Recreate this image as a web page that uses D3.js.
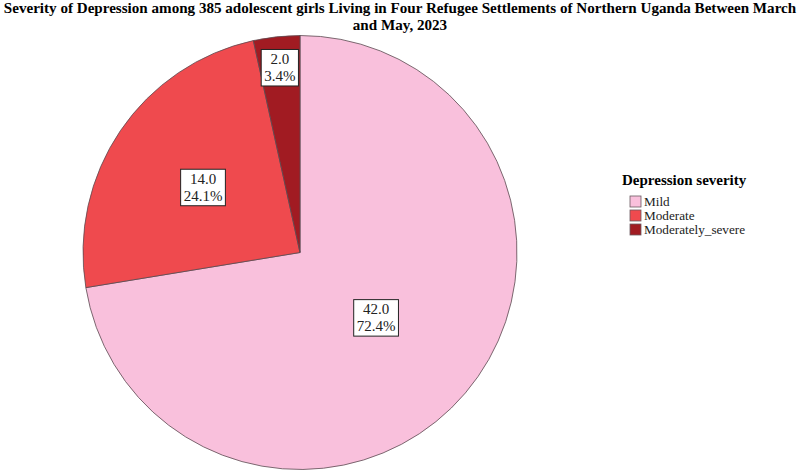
<!DOCTYPE html>
<html>
<head>
<meta charset="utf-8">
<script src="https://cdn.jsdelivr.net/npm/d3@7"></script>
<style>
body { margin: 0; background: #fff; }
text { font-family: "Liberation Serif", "Times New Roman", serif; }
</style>
</head>
<body>
<svg id="chart" width="800" height="472"></svg>
<script>
var categories = ["Mild", "Moderate", "Moderately_severe"];
var counts = [42.0, 14.0, 2.0];
var percents = ["72.4%", "24.1%", "3.4%"];
var colors = ["#f9c0dc", "#ef4a4e", "#a11b22"];

// where SPSS put each label, as fraction of radius
var labelRadius = [0.46, 0.54, 0.86];

var svg = d3.select("#chart"),
    width = +svg.attr("width"),
    height = +svg.attr("height");

var title = svg.append("text")
    .attr("text-anchor", "middle")
    .attr("font-weight", "bold")
    .attr("font-size", 15.1);
title.append("tspan").attr("x", 400).attr("y", 13)
    .text("Severity of Depression among 385 adolescent girls Living in Four Refugee Settlements of Northern Uganda Between March");
title.append("tspan").attr("x", 400).attr("y", 30)
    .text("and May, 2023");

var cx = 300, cy = 252.5, r = 217;

var pie = d3.pie().sort(null).value(function (d) { return d; });
var arc = d3.arc().innerRadius(0).outerRadius(r);
var arcs = pie(counts);

var g = svg.append("g").attr("transform", "translate(" + cx + "," + cy + ")");

g.selectAll("path")
    .data(arcs)
    .enter().append("path")
    .attr("d", arc)
    .attr("fill", function (d, i) { return colors[i]; })
    .attr("stroke", "#5a4a50")
    .attr("stroke-width", 0.8);

var labels = g.selectAll("g.lab")
    .data(arcs)
    .enter().append("g")
    .attr("class", "lab")
    .attr("transform", function (d, i) {
        var a = (d.startAngle + d.endAngle) / 2;
        var rr = r * labelRadius[i];
        return "translate(" + (rr * Math.sin(a)) + "," + (-rr * Math.cos(a)) + ")";
    });

labels.each(function (d, i) {
    var sel = d3.select(this);
    var rect = sel.append("rect");
    var t = sel.append("text")
        .attr("text-anchor", "middle")
        .attr("font-size", 15)
        .attr("fill", "#222");
    t.append("tspan").attr("x", 0).attr("y", -3).text(counts[i].toFixed(1));
    t.append("tspan").attr("x", 0).attr("y", 14).text(percents[i]);
    var bb = t.node().getBBox();
    rect.attr("x", bb.x - 3).attr("y", bb.y - 1.5)
        .attr("width", bb.width + 6).attr("height", bb.height + 3.5)
        .attr("fill", "#fff")
        .attr("stroke", "#222")
        .attr("stroke-width", 1);
});

var legend = svg.append("g").attr("transform", "translate(622,0)");
legend.append("text")
    .attr("x", 0).attr("y", 185)
    .attr("font-weight", "bold")
    .attr("font-size", 15)
    .text("Depression severity");

var items = legend.selectAll("g.item")
    .data(categories)
    .enter().append("g")
    .attr("class", "item")
    .attr("transform", function (d, i) { return "translate(8," + (196 + i * 14) + ")"; });
items.append("rect")
    .attr("width", 11).attr("height", 11)
    .attr("fill", function (d, i) { return colors[i]; })
    .attr("stroke", "#6a5a60")
    .attr("stroke-width", 0.8);
items.append("text")
    .attr("x", 14).attr("y", 10)
    .attr("font-size", 13.2)
    .attr("fill", "#222")
    .text(function (d) { return d; });
</script>
</body>
</html>
